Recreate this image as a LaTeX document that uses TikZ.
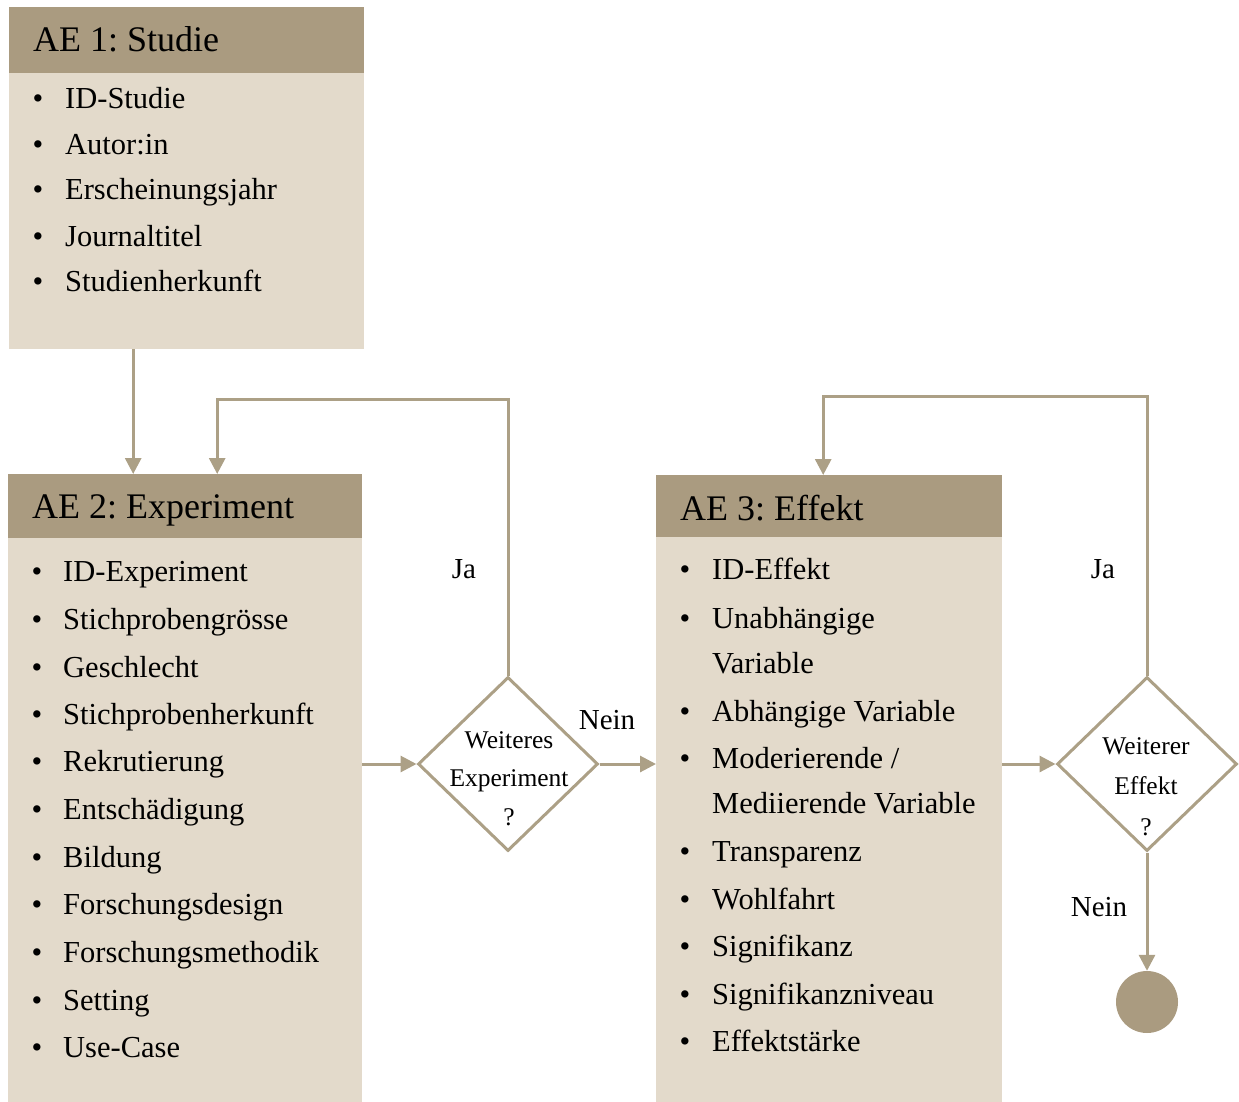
\documentclass[tikz,border=0pt]{standalone}
\usepackage{fontspec}
\setmainfont{Liberation Serif}
\frenchspacing
\usetikzlibrary{arrows.meta,shapes.geometric}
\definecolor{hdr}{RGB}{170,155,128}
\definecolor{bod}{RGB}{227,218,203}
\definecolor{ln}{RGB}{172,160,134}
\tikzset{
  hdrbox/.style={draw=none,fill=hdr,anchor=north west,inner sep=0,minimum height=#1},
  bodbox/.style={draw=none,fill=bod,anchor=north west,inner sep=0,minimum height=#1},
  ttl/.style={anchor=base west,inner sep=0,font=\fontsize{36}{40}\selectfont},
  itm/.style={anchor=base west,inner sep=0,font=\fontsize{30.5}{36}\selectfont},
  bul/.style={anchor=base,inner sep=0,font=\fontsize{30.5}{36}\selectfont},
  dtxt/.style={anchor=base,inner sep=0,font=\fontsize{25.5}{30}\selectfont},
  lbl/.style={anchor=base,inner sep=0,font=\fontsize{29}{34}\selectfont},
  dia/.style={diamond,draw=ln,line width=3,fill=white,inner sep=0,minimum width=180,minimum height=174},
  arr/.style={draw=ln,line width=3,-{Triangle[width=16,length=16]}},
}
\begin{document}
\begin{tikzpicture}[x=1pt,y=-1pt]
\useasboundingbox (0,0) rectangle (1239,1102);
% Box 1
\node[hdrbox=66,minimum width=355] (h1) at (9,7) {};
\node[bodbox=276,minimum width=355] (b1) at (9,73) {};
\node[ttl] (t1) at (33,52) {AE 1: Studie};
\foreach \y/\t [count=\i] in {99/ID-Studie,145/Autor:in,190/Erscheinungsjahr,236/Journaltitel,281/Studienherkunft}{
  \node[bul] (b1u\i) at (38,\y+10) {\textbullet};
  \node[itm] (b1i\i) at (65,\y+10) {\t};
}
% Box 2
\node[hdrbox=64,minimum width=354] (h2) at (8,474) {};
\node[bodbox=564,minimum width=354] (b2) at (8,538) {};
\node[ttl] (t2) at (32,518) {AE 2: Experiment};
\foreach \y/\t [count=\i] in {571/ID-Experiment,619/Stichprobengrösse,667/Geschlecht,714/Stichprobenherkunft,761/Rekrutierung,809/Entschädigung,857/Bildung,904/Forschungsdesign,952/Forschungsmethodik,1000/Setting,1047/Use-Case}{
  \node[bul] (b2u\i) at (37,\y+10) {\textbullet};
  \node[itm] (b2i\i) at (63,\y+10) {\t};
}
% Box 3
\node[hdrbox=62,minimum width=346] (h3) at (656,475) {};
\node[bodbox=565,minimum width=346] (b3) at (656,537) {};
\node[ttl] (t3) at (680,520) {AE 3: Effekt};
\foreach \y [count=\i] in {569,618,711,758,851,899,946,994,1041}{
  \node[bul] (b3u\i) at (685,\y+10) {\textbullet};
}
\foreach \y/\t [count=\i] in {569/{ID-Effekt},618/{Unabhängige},663/{Variable},711/{Abhängige Variable},758/{Moderierende /},803/{Mediierende Variable},851/{Transparenz},899/{Wohlfahrt},946/{Signifikanz},994/{Signifikanzniveau},1041/{Effektstärke}}{
  \node[itm] (b3i\i) at (712,\y+10) {\t};
}
% Diamonds
\node[dia] (d1) at (508,764) {};
\node[dtxt] (d1a) at (509,748) {Weiteres};
\node[dtxt] (d1b) at (509,786) {Experiment};
\node[dtxt] (d1c) at (509,825) {?};
\node[dia] (d2) at (1147,764) {};
\node[dtxt] (d2a) at (1146,754) {Weiterer};
\node[dtxt] (d2b) at (1146,794) {Effekt};
\node[dtxt] (d2c) at (1146,835) {?};
% end circle
\node[circle,fill=hdr,minimum size=62,inner sep=0] (end) at (1147,1002) {};
% labels
\node[lbl] (ja1) at (464,578) {Ja};
\node[lbl] (ne1) at (607,729) {Nein};
\node[lbl] (ja2) at (1103,578) {Ja};
\node[lbl] (ne2) at (1099,916) {Nein};
% connectors
\draw[arr] ([xshift=-53.5]b1.south) -- ([xshift=-52]h2.north);
\draw[arr] (d1.north) -- ++(0,-276) -| ([xshift=32]h2.north);
\draw[arr] (b2.east |- d1) -- (d1.west);
\draw[arr] (d1.east) -- (b3.west |- d1);
\draw[arr] (b3.east |- d2) -- (d2.west);
\draw[arr] (d2.north) -- ++(0,-279) -| ([xshift=-6]h3.north);
\draw[arr] (d2.south) -- (end.north);
\end{tikzpicture}
\end{document}
